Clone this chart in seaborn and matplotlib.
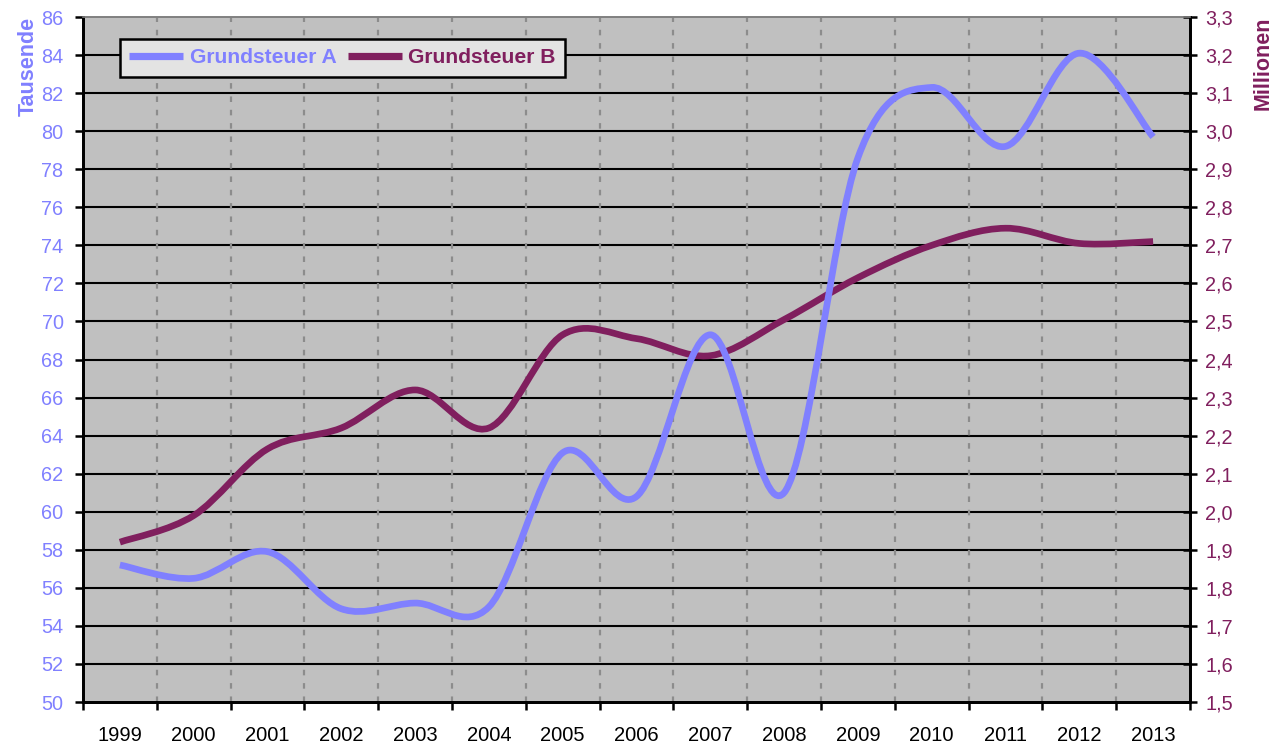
import matplotlib
matplotlib.use("Agg")
import matplotlib.pyplot as plt
import seaborn as sns
from matplotlib.path import Path
from matplotlib.patches import PathPatch
from matplotlib.lines import Line2D
from matplotlib.ticker import FuncFormatter, MultipleLocator, FixedLocator

# Data
years = ["1999", "2000", "2001", "2002", "2003", "2004", "2005", "2006",
         "2007", "2008", "2009", "2010", "2011", "2012", "2013"]
grundsteuer_a = [57.2, 56.5, 57.9, 54.9, 55.2, 55.0, 63.1, 60.8,
                 69.3, 61.0, 78.6, 82.3, 79.2, 84.1, 79.7]  # Tausende
grundsteuer_b = [1.92, 1.99, 2.165, 2.22, 2.32, 2.22, 2.465, 2.455,
                 2.41, 2.505, 2.615, 2.70, 2.745, 2.705, 2.71]  # Millionen

col_a = "#8080FF"
col_b = "#801F5E"

sns.set_theme(style="white")
plt.rcParams["font.family"] = ["Liberation Sans", "DejaVu Sans"]


def smooth_path(xs, ys):
    # Excel-like smoothed line: cubic Bezier segments (Catmull-Rom control points)
    pts = list(zip(xs, ys))
    n = len(pts)
    verts = [pts[0]]
    codes = [Path.MOVETO]
    for i in range(n - 1):
        p0 = pts[i - 1] if i > 0 else pts[i]
        p1 = pts[i]
        p2 = pts[i + 1]
        p3 = pts[i + 2] if i + 2 < n else pts[i + 1]
        c1 = (p1[0] + (p2[0] - p0[0]) / 6, p1[1] + (p2[1] - p0[1]) / 6)
        c2 = (p2[0] - (p3[0] - p1[0]) / 6, p2[1] - (p3[1] - p1[1]) / 6)
        verts += [c1, c2, p2]
        codes += [Path.CURVE4] * 3
    return Path(verts, codes)


fig = plt.figure(figsize=(12.79, 7.49), dpi=100)
ax = fig.add_axes([83 / 1279, 47 / 749, 1107 / 1279, 685 / 749])
ax2 = ax.twinx()

ax.set_facecolor("#C0C0C0")
xpos = list(range(len(years)))
ax.set_xlim(-0.5, len(years) - 0.5)
ax.set_ylim(50, 86)
ax2.set_ylim(1.5, 3.3)

# grid
ax.yaxis.set_major_locator(MultipleLocator(2))
ax2.yaxis.set_major_locator(MultipleLocator(0.1))
ax.grid(False)
ax2.grid(False)
for v in range(52, 86, 2):
    ax.axhline(v, color="black", lw=1.5, zorder=1)
for b in range(len(years) - 1):
    ax.axvline(b + 0.5, color="#8C8C8C", lw=1.6, dashes=(2.5, 3.5), zorder=1)

# lines (B first, A on top)
lw = 4.8
pb = PathPatch(smooth_path(xpos, grundsteuer_b), transform=ax2.transData,
               fill=False, edgecolor=col_b, lw=lw, capstyle="butt", joinstyle="round")
pa = PathPatch(smooth_path(xpos, grundsteuer_a), transform=ax.transData,
               fill=False, edgecolor=col_a, lw=lw, capstyle="butt", joinstyle="round")
ax2.add_artist(pb)
ax2.add_artist(pa)
pb.set_clip_path(ax2.patch)
pa.set_clip_path(ax2.patch)

# x axis: labels centred, ticks on category borders
ax.xaxis.set_major_locator(FixedLocator(xpos))
ax.set_xticklabels(years)
ax.xaxis.set_minor_locator(FixedLocator([b - 0.5 for b in range(len(years) + 1)]))
ax.tick_params(axis="x", which="major", length=0, labelsize=14.5, labelcolor="black", pad=17)
ax.tick_params(axis="x", which="minor", length=6, width=1.8, color="black", direction="out",
               bottom=True)

ax.tick_params(axis="y", which="major", left=True, length=6, width=1.8, color="black",
               direction="out", labelsize=14.3, labelcolor=col_a, pad=8)
ax2.tick_params(axis="y", which="major", right=True, length=10, width=1.8, color="black",
                direction="inout", labelsize=14.3, labelcolor=col_b, pad=6)
ax2.yaxis.set_major_formatter(FuncFormatter(lambda v, p: f"{v:.1f}".replace(".", ",")))

for a in (ax, ax2):
    for s in ("left", "right", "bottom"):
        a.spines[s].set_color("black")
        a.spines[s].set_linewidth(2)
    a.spines["top"].set_color("#808080")
    a.spines["top"].set_linewidth(1.2)

ax.set_ylabel("Tausende", color=col_a, fontsize=15.5, fontweight="bold", labelpad=2, loc="top")
ax2.set_ylabel("Millionen", color=col_b, fontsize=15.5, fontweight="bold", labelpad=14, loc="top")

handles = [Line2D([], [], color=col_a, lw=5.2, solid_capstyle="butt"),
           Line2D([], [], color=col_b, lw=5.2, solid_capstyle="butt")]
leg = ax2.legend(handles, ["Grundsteuer A", "Grundsteuer B"], loc="upper left",
                 bbox_to_anchor=(0.0334, 0.968), borderaxespad=0, ncol=2, frameon=True,
                 fancybox=False, facecolor="#E3E3E3", edgecolor="black", framealpha=1,
                 prop={"weight": "bold", "size": 15.2}, handlelength=2.55,
                 columnspacing=0.55, handletextpad=0.3, borderpad=0.45)
leg.get_frame().set_linewidth(1.8)
for t, c in zip(leg.get_texts(), (col_a, col_b)):
    t.set_color(c)

fig.savefig("out.png", dpi=100)
